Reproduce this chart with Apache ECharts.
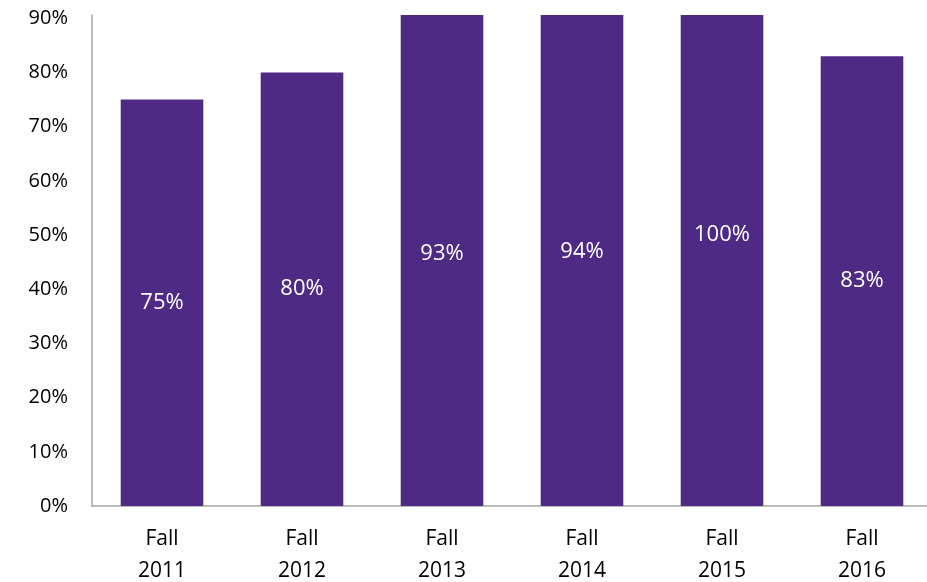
<!DOCTYPE html>
<html>
<head>
<meta charset="utf-8">
<script src="https://cdn.jsdelivr.net/npm/echarts@6/dist/echarts.min.js"></script>
<style>
html, body {margin:0; padding:0; background:#fff;}
#chart {width:927px; height:582px;}
</style>
</head>
<body>
<div id="chart"></div>
<script>
var categories = ['Fall\n2011', 'Fall\n2012', 'Fall\n2013', 'Fall\n2014', 'Fall\n2015', 'Fall\n2016'];
var values = [75, 80, 93, 94, 100, 83];
var font = 'Open Sans';

var myChart = echarts.init(document.getElementById('chart'));
var option = {
	animation: false,
	grid: {left: 92, right: -5, top: 15, bottom: 76, outerBoundsMode: 'none', containLabel: false},
	xAxis: {
		type: 'category',
		data: categories,
		axisLine: {lineStyle: {color: '#a6a6a6', width: 1.5}},
		axisTick: {show: false},
		axisLabel: {color: '#000', fontFamily: font, fontSize: 21, lineHeight: 32, margin: 17}
	},
	yAxis: {
		type: 'value',
		min: 0,
		max: 90.6,
		interval: 10,
		splitLine: {show: false},
		axisLine: {show: true, lineStyle: {color: '#a6a6a6', width: 1.5}},
		axisTick: {show: false},
		axisLabel: {
			color: '#000', fontFamily: font, fontSize: 20, margin: 24,
			showMaxLabel: false,
			formatter: function (v) { return v + '%'; }
		}
	},
	series: [
		{
			type: 'bar',
			data: values,
			barWidth: '59%',
			itemStyle: {color: '#4e2a84'},
			clip: true
		},
		{
			type: 'bar',
			data: values,
			barWidth: '59%',
			barGap: '-100%',
			itemStyle: {color: 'rgba(0,0,0,0)'},
			clip: false,
			label: {
				show: true,
				position: 'inside',
				color: '#fff',
				fontFamily: font,
				fontSize: 22,
				formatter: '{c}%'
			}
		}
	]
};
myChart.setOption(option);
</script>
</body>
</html>
